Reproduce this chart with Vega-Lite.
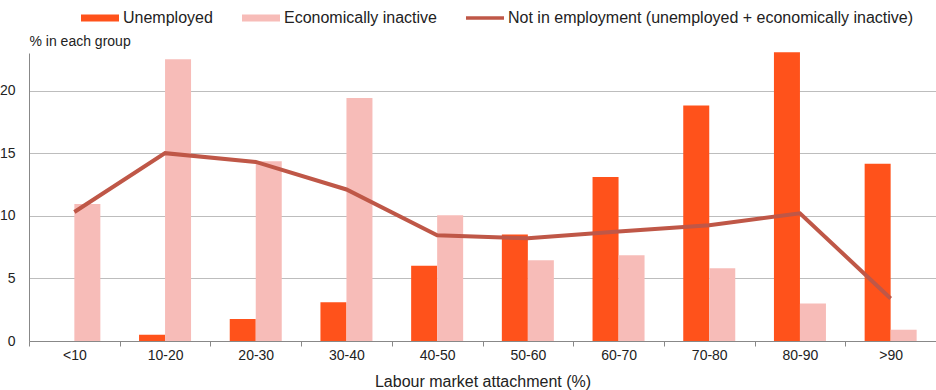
{
  "$schema": "https://vega.github.io/schema/vega-lite/v6.json",
  "width": 907,
  "height": 288,
  "autosize": {"type": "none"},
  "padding": {"left": 29, "top": 53, "right": 0, "bottom": 49},
  "background": "white",
  "config": {
    "font": "Liberation Sans",
    "view": {"stroke": null}
  },
  "data": {
    "values": [
      {"group": "<10", "series": "Unemployed", "value": 0},
      {"group": "10-20", "series": "Unemployed", "value": 0.5},
      {"group": "20-30", "series": "Unemployed", "value": 1.75},
      {"group": "30-40", "series": "Unemployed", "value": 3.1},
      {"group": "40-50", "series": "Unemployed", "value": 6.0},
      {"group": "50-60", "series": "Unemployed", "value": 8.5},
      {"group": "60-70", "series": "Unemployed", "value": 13.1},
      {"group": "70-80", "series": "Unemployed", "value": 18.8},
      {"group": "80-90", "series": "Unemployed", "value": 23.05},
      {"group": ">90", "series": "Unemployed", "value": 14.15},
      {"group": "<10", "series": "Economically inactive", "value": 10.95},
      {"group": "10-20", "series": "Economically inactive", "value": 22.5},
      {"group": "20-30", "series": "Economically inactive", "value": 14.35},
      {"group": "30-40", "series": "Economically inactive", "value": 19.4},
      {"group": "40-50", "series": "Economically inactive", "value": 10.05},
      {"group": "50-60", "series": "Economically inactive", "value": 6.45},
      {"group": "60-70", "series": "Economically inactive", "value": 6.85},
      {"group": "70-80", "series": "Economically inactive", "value": 5.8},
      {"group": "80-90", "series": "Economically inactive", "value": 3.0},
      {"group": ">90", "series": "Economically inactive", "value": 0.9},
      {"group": "<10", "series": "Not in employment (unemployed + economically inactive)", "value": 10.3},
      {"group": "10-20", "series": "Not in employment (unemployed + economically inactive)", "value": 15.0},
      {"group": "20-30", "series": "Not in employment (unemployed + economically inactive)", "value": 14.3},
      {"group": "30-40", "series": "Not in employment (unemployed + economically inactive)", "value": 12.1},
      {"group": "40-50", "series": "Not in employment (unemployed + economically inactive)", "value": 8.45},
      {"group": "50-60", "series": "Not in employment (unemployed + economically inactive)", "value": 8.2},
      {"group": "60-70", "series": "Not in employment (unemployed + economically inactive)", "value": 8.75},
      {"group": "70-80", "series": "Not in employment (unemployed + economically inactive)", "value": 9.25},
      {"group": "80-90", "series": "Not in employment (unemployed + economically inactive)", "value": 10.2},
      {"group": ">90", "series": "Not in employment (unemployed + economically inactive)", "value": 3.4}
    ]
  },
  "encoding": {
    "x": {
      "field": "group",
      "type": "nominal",
      "sort": ["<10", "10-20", "20-30", "30-40", "40-50", "50-60", "60-70", "70-80", "80-90", ">90"],
      "scale": {"paddingInner": 0, "paddingOuter": 0},
      "axis": {
        "title": "Labour market attachment (%)",
        "titleFontSize": 16,
        "titleFontWeight": "normal",
        "titleColor": "#222222",
        "titleY": 45,
        "titleBaseline": "alphabetic",
        "labelFontSize": 14,
        "labelColor": "#222222",
        "labelAngle": 0,
        "labelPadding": 2,
        "tickBand": "extent",
        "tickSize": 5,
        "tickColor": "#888888",
        "domainColor": "#888888",
        "grid": false
      }
    },
    "y": {
      "field": "value",
      "type": "quantitative",
      "scale": {"domain": [0, 23], "nice": false},
      "axis": {
        "title": "% in each group",
        "titleAngle": 0,
        "titleAlign": "left",
        "titleX": 0,
        "titleY": -8,
        "titleBaseline": "alphabetic",
        "titleFontSize": 14,
        "titleFontWeight": "normal",
        "titleColor": "#222222",
        "values": [0, 5, 10, 15, 20],
        "ticks": false,
        "tickSize": 0,
        "labelPadding": 14,
        "labelFontSize": 14,
        "labelColor": "#222222",
        "gridColor": "#BDBDBD",
        "domainColor": "#888888"
      }
    }
  },
  "layer": [
    {
      "transform": [{"filter": "datum.series !== 'Not in employment (unemployed + economically inactive)'"}],
      "mark": {"type": "bar"},
      "encoding": {
        "xOffset": {
          "field": "series",
          "type": "nominal",
          "sort": ["Unemployed", "Economically inactive"],
          "scale": {"paddingInner": 0, "paddingOuter": 0.744}
        },
        "color": {
          "field": "series",
          "type": "nominal",
          "scale": {
            "domain": ["Unemployed", "Economically inactive", "Not in employment (unemployed + economically inactive)"],
            "range": ["#FF521B", "#F7BCB8", "#BF5747"]
          },
          "legend": {
            "title": null,
            "orient": "none",
            "legendX": 52,
            "legendY": -54,
            "direction": "horizontal",
            "columns": 3,
            "columnPadding": 29,
            "padding": 0,
            "labelFontSize": 16,
            "labelColor": "#222222",
            "labelOffset": 4,
            "symbolType": "M-1,-0.18H1V0.18H-1Z",
            "symbolSize": 1444,
            "symbolStrokeWidth": 0,
            "symbolOpacity": 1,
            "labelLimit": 600,
            "encode": {
              "symbols": {
                "update": {
                  "shape": [
                    {"test": "datum.value === 'Not in employment (unemployed + economically inactive)'", "value": "M-1,-0.09H1V0.09H-1Z"},
                    {"value": "M-1,-0.18H1V0.18H-1Z"}
                  ]
                }
              }
            }
          }
        }
      }
    },
    {
      "transform": [{"filter": "datum.series === 'Not in employment (unemployed + economically inactive)'"}],
      "mark": {"type": "line", "strokeWidth": 4},
      "encoding": {
        "color": {
          "field": "series",
          "type": "nominal",
          "legend": null
        }
      }
    }
  ]
}
